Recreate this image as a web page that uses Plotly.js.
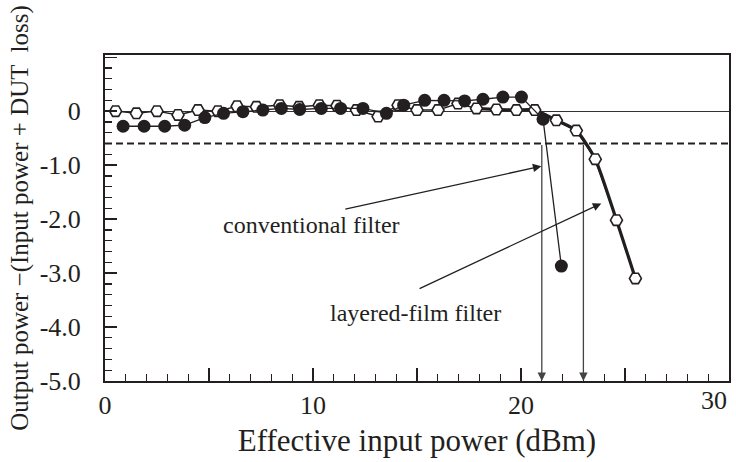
<!DOCTYPE html>
<html><head><meta charset="utf-8">
<script src="https://cdn.plot.ly/plotly-3.0.1.min.js"></script>
<style>html,body{margin:0;padding:0;background:#fff;}#chart{width:736px;height:462px;}</style>
</head><body><div id="chart"></div>
<script>
// conventional filter (filled circles)
const convX = [0.87,1.88,2.87,3.83,4.8,5.7,6.63,7.59,8.48,9.36,10.4,11.33,12.4,13.53,14.36,15.37,16.3,17.29,18.17,19.13,20.02,21.06,21.94];
const convY = [-0.28,-0.28,-0.28,-0.26,-0.12,-0.04,-0.01,0.02,0.05,0.03,0.05,0.05,0.05,-0.04,0.11,0.2,0.2,0.19,0.22,0.26,0.26,-0.15,-2.87];
// layered-film filter (open hexagons)
const layerX = [0.51,1.51,2.5,3.51,4.47,5.43,6.35,7.28,8.4,9.33,10.3,11.15,12.09,13.13,14.09,15.0,16.01,16.97,17.86,18.82,19.78,20.66,21.7,22.66,23.57,24.59,25.5];
const layerY = [0,-0.04,0,-0.07,0.02,0,0.09,0.08,0.11,0.08,0.11,0.1,0.02,-0.1,0.11,0.02,0.02,0.14,0.05,0.03,0.02,0.02,-0.17,-0.36,-0.89,-2.02,-3.1];
const layerTailStart = 18;
// reference level and cut-off powers
const thresholdY = -0.6;
const cutoffX = [21.0, 23.0];
// tick labels
const xTickVals = [0,5,10,15,20,25,30];
const xTickText = ["0","","10","","20","",""];
const yTickVals = [1,0,-1,-2,-3,-4,-5];
const yTickText = ["","0","-1.0","-2.0","-3.0","-4.0","-5.0"];
// callout labels
const labelText = ["conventional filter","layered-film filter"];
const labelX = [9.92, 14.94];
const labelY = [-2.11, -3.74];
const arrowTipX = [20.98, 23.86];
const arrowTipY = [-1.02, -1.71];
const arrowTailX = [11.48, 15.05];
const arrowTailY = [-1.82, -3.30];

const ink = '#231f20';
const serif = 'Liberation Serif, Times New Roman, serif';

const traces = [
  {x: layerX.slice(layerTailStart), y: layerY.slice(layerTailStart), mode:'lines',
   line:{color:ink, width:3.2, shape:'spline', smoothing:0.6}, hoverinfo:'skip', showlegend:false},
  {x: layerX, y: layerY, mode:'lines+markers', name:'layered-film filter',
   line:{color:ink, width:1.4},
   marker:{symbol:'hexagon2', size:12, color:'#ffffff', line:{color:ink, width:1.6}}},
  {x: convX, y: convY, mode:'lines+markers', name:'conventional filter',
   line:{color:ink, width:1.3},
   marker:{symbol:'circle', size:13, color:ink, line:{color:ink, width:0}}}
];

const annotations = [];
cutoffX.forEach(cx => annotations.push({
  x: cx, y: -5, ax: cx, ay: thresholdY, xref:'x', yref:'y', axref:'x', ayref:'y',
  text:'', showarrow:true, arrowhead:2, arrowsize:1.3, arrowwidth:1.3, arrowcolor:'#444'
}));
for (let i=0;i<labelText.length;i++){
  annotations.push({x: arrowTipX[i], y: arrowTipY[i], ax: arrowTailX[i], ay: arrowTailY[i],
    xref:'x', yref:'y', axref:'x', ayref:'y', text:'', showarrow:true,
    arrowhead:2, arrowsize:1.3, arrowwidth:1.3, arrowcolor:ink});
  annotations.push({x: labelX[i], y: labelY[i], xref:'x', yref:'y', text: labelText[i],
    showarrow:false, font:{family:serif, size:24, color:ink}});
}
annotations.push({x:30, y:0, xref:'x', yref:'paper', text:'30', showarrow:false,
  xanchor:'right', yanchor:'top', yshift:-3, font:{family:serif, size:26, color:ink}});

const layout = {
  width:736, height:462,
  margin:{l:105.3, r:6.7, t:55, b:81, pad:0},
  paper_bgcolor:'#ffffff', plot_bgcolor:'#ffffff',
  showlegend:false,
  font:{family:serif, color:ink},
  xaxis:{
    range:[0,30], tickmode:'array', tickvals:xTickVals, ticktext:xTickText,
    ticks:'inside', ticklen:13, tickwidth:1.3, tickcolor:ink,
    minor:{tickmode:'linear', tick0:0, dtick:1, ticks:'inside', ticklen:7, tickwidth:1.3, tickcolor:ink},
    showline:true, linecolor:ink, linewidth:2, mirror:true, showgrid:false, zeroline:false,
    tickfont:{family:serif, size:26, color:ink}, ticklabelstandoff:0,
    title:{text:'Effective input power (dBm)', font:{family:serif, size:31, color:ink}, standoff:10}
  },
  yaxis:{
    range:[-5,1.04], tickmode:'array', tickvals:yTickVals, ticktext:yTickText,
    ticks:'inside', ticklen:12, tickwidth:1.3, tickcolor:ink,
    minor:{tickmode:'linear', tick0:0, dtick:0.2, ticks:'inside', ticklen:7, tickwidth:1.3, tickcolor:ink},
    showline:true, linecolor:ink, linewidth:2, mirror:true, showgrid:false,
    zeroline:true, zerolinecolor:'#333', zerolinewidth:1.2,
    tickfont:{family:serif, size:26, color:ink}, ticklabelstandoff:17,
    title:{text:'Output power −(Input power + DUT  loss)', font:{family:serif, size:25, color:ink}, standoff:4}
  },
  shapes:[{type:'line', xref:'paper', x0:0, x1:1, yref:'y', y0:thresholdY, y1:thresholdY,
    line:{color:ink, width:2, dash:'7px,4px'}}],
  annotations: annotations
};
Plotly.newPlot('chart', traces, layout, {staticPlot:true, displayModeBar:false});
</script></body></html>
